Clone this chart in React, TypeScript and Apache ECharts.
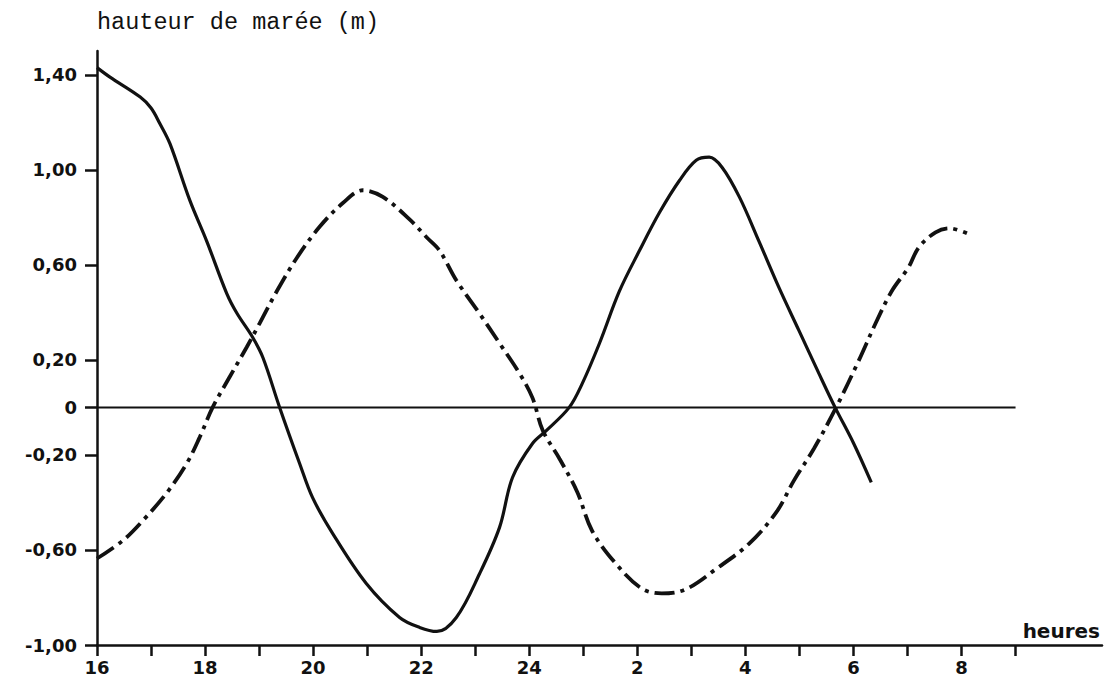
import React, { useEffect, useRef } from "react";
import * as echarts from "echarts";

const solidHours = [16, 16.24, 16.8, 17.0, 17.16, 17.35, 17.72, 18.03, 18.4, 18.59, 18.88, 19.07, 19.38, 19.75, 19.99, 20.36, 20.98, 21.6, 21.97, 22.29, 22.65, 23.08, 23.45, 23.69, 24.06, 24.32, 24.74, 24.98, 25.3, 25.67, 26.04, 26.41, 26.78, 27.09, 27.33, 27.57, 27.89, 28.25, 28.62, 28.99, 29.36, 29.66, 30.0, 30.33];
const solidValues = [1.43, 1.39, 1.306, 1.26, 1.196, 1.11, 0.87, 0.7, 0.48, 0.396, 0.295, 0.21, 0, -0.236, -0.38, -0.53, -0.74, -0.884, -0.926, -0.943, -0.884, -0.7, -0.505, -0.295, -0.152, -0.097, 0.0, 0.1, 0.27, 0.49, 0.66, 0.82, 0.955, 1.04, 1.053, 1.01, 0.885, 0.7, 0.505, 0.324, 0.143, 0, -0.15, -0.316];

const dashHours = [16, 16.48, 16.85, 17.29, 17.66, 17.9, 18.14, 18.46, 18.77, 19.01, 19.33, 19.7, 20.12, 20.55, 20.92, 21.29, 21.79, 22.1, 22.34, 22.65, 23.08, 23.45, 23.82, 24.06, 24.25, 24.56, 24.89, 25.16, 25.6, 26.08, 26.45, 26.89, 27.47, 28.07, 28.57, 28.9, 29.27, 29.68, 30.1, 30.41, 30.71, 31.02, 31.21, 31.52, 31.77, 32.1];
const dashValues = [-0.636, -0.56, -0.476, -0.36, -0.236, -0.126, 0, 0.13, 0.253, 0.354, 0.49, 0.63, 0.76, 0.86, 0.914, 0.886, 0.79, 0.716, 0.66, 0.535, 0.395, 0.27, 0.143, 0.04, -0.097, -0.216, -0.357, -0.518, -0.657, -0.762, -0.783, -0.766, -0.678, -0.573, -0.442, -0.307, -0.173, 0, 0.198, 0.354, 0.49, 0.59, 0.674, 0.737, 0.754, 0.733];

const zeroLineHours = [16, 33];
const zeroLineValues = [0, 0];

const xTickHours = [16, 17, 18, 19, 20, 21, 22, 23, 24, 25, 26, 27, 28, 29, 30, 31, 32, 33];
const xLabelHours = [16, 18, 20, 22, 24, 26, 28, 30, 32];
const xLabelTexts = ["16", "18", "20", "22", "24", "2", "4", "6", "8"];

const yTickValues = [-1.0, -0.6, -0.2, 0, 0.2, 0.6, 1.0, 1.4];
const yLabelTexts = ["-1,00", "-0,60", "-0,20", "0", "0,20", "0,60", "1,00", "1,40"];

const yTitle = "hauteur de marée (m)";
const xTitle = "heures";

const INK = "#111111";

function pairs(xs: number[], ys: number[]) {
  return xs.map((x, i) => [x, ys[i]]);
}

export default function App() {
  const ref = useRef<HTMLDivElement>(null);
  useEffect(() => {
    if (!ref.current) return;
    const chart = echarts.init(ref.current, null, { renderer: "svg" });
    const labelFont = { fontFamily: "DejaVu Sans", fontWeight: "bold" as const, fontSize: 18, color: INK };
    chart.setOption({
      animation: false,
      backgroundColor: "#ffffff",
      title: {
        text: yTitle,
        left: 92,
        top: 5,
        textStyle: { fontFamily: "Liberation Mono", fontWeight: "normal", fontSize: 23.5, color: INK },
      },
      grid: { left: 97, right: 8, top: 51, bottom: 37, containLabel: false },
      xAxis: {
        type: "value",
        min: 16,
        max: 34.6,
        name: xTitle,
        nameLocation: "end",
        nameGap: -2,
        nameTextStyle: { ...labelFont, fontSize: 20, align: "right", verticalAlign: "bottom", padding: [0, 0, 4, 0] },
        axisLine: { show: true, onZero: false, lineStyle: { color: INK, width: 2.5 } },
        axisTick: { show: true, customValues: xTickHours, length: 11, lineStyle: { color: INK, width: 2.5 } },
        axisLabel: {
          show: true,
          customValues: xLabelHours,
          margin: 13,
          ...labelFont,
          formatter: (v: number) => {
            const i = xLabelHours.findIndex((h) => Math.abs(h - v) < 1e-6);
            return i >= 0 ? xLabelTexts[i] : "";
          },
        },
        splitLine: { show: false },
      },
      yAxis: {
        type: "value",
        min: -1,
        max: 1.5,
        axisLine: { show: true, onZero: false, lineStyle: { color: INK, width: 2.5 } },
        axisTick: { show: true, customValues: yTickValues, length: 12, lineStyle: { color: INK, width: 2.5 } },
        axisLabel: {
          show: true,
          customValues: yTickValues,
          margin: 20,
          ...labelFont,
          formatter: (v: number) => {
            const i = yTickValues.findIndex((t) => Math.abs(t - v) < 1e-6);
            return i >= 0 ? yLabelTexts[i] : "";
          },
        },
        splitLine: { show: false },
      },
      series: [
        {
          type: "line",
          name: "zero",
          data: pairs(zeroLineHours, zeroLineValues),
          symbol: "none",
          silent: true,
          lineStyle: { color: INK, width: 2 },
        },
        {
          type: "line",
          name: "courbe pleine",
          data: pairs(solidHours, solidValues),
          symbol: "none",
          smooth: 0.35,
          silent: true,
          lineStyle: { color: INK, width: 3.2 },
        },
        {
          type: "line",
          name: "courbe mixte",
          data: pairs(dashHours, dashValues),
          symbol: "none",
          smooth: 0.35,
          silent: true,
          lineStyle: { color: INK, width: 3.8, type: [20, 6, 4, 6] },
        },
      ],
    });
    return () => chart.dispose();
  }, []);
  return (
    <div
      ref={ref}
      style={{ position: "absolute", left: 0, top: 0, width: 1110, height: 682, background: "#fff" }}
    />
  );
}
